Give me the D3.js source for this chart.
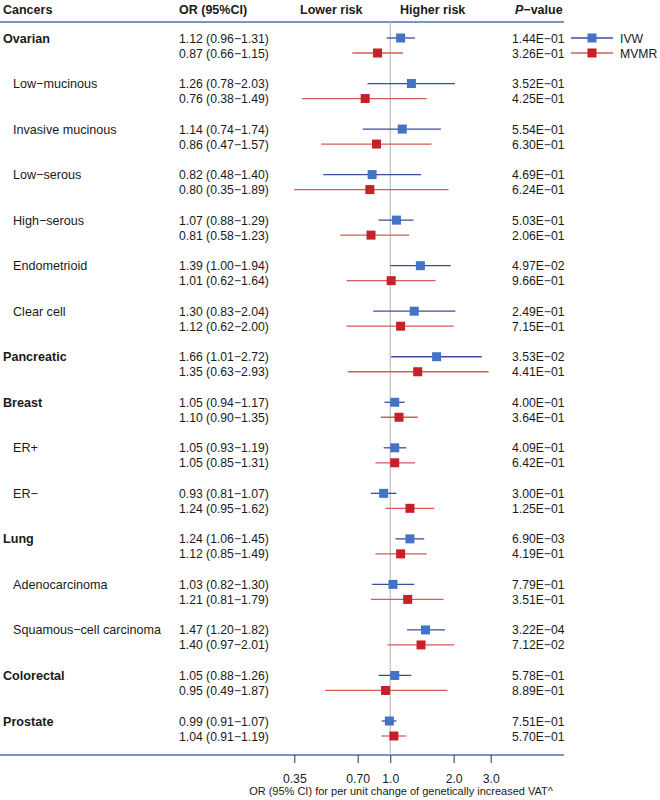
<!DOCTYPE html>
<html><head><meta charset="utf-8">
<script src="https://cdn.jsdelivr.net/npm/d3@7"></script>
<style>
html,body{margin:0;padding:0;background:#fff;}
svg text{font-family:"Liberation Sans",Arial,sans-serif;}
</style></head>
<body>
<svg id="chart" width="660" height="800"></svg>
<script>
const cancers = ["Ovarian","Low\u2212mucinous","Invasive mucinous","Low\u2212serous","High\u2212serous","Endometrioid","Clear cell","Pancreatic","Breast","ER+","ER\u2212","Lung","Adenocarcinoma","Squamous\u2212cell carcinoma","Colorectal","Prostate"];
const isMain = [true,false,false,false,false,false,false,true,true,false,false,true,false,false,true,true];
const ivwOR  = [1.12,1.26,1.14,0.82,1.07,1.39,1.30,1.66,1.05,1.05,0.93,1.24,1.03,1.47,1.05,0.99];
const ivwLo  = [0.96,0.78,0.74,0.48,0.88,1.00,0.83,1.01,0.94,0.93,0.81,1.06,0.82,1.20,0.88,0.91];
const ivwHi  = [1.31,2.03,1.74,1.40,1.29,1.94,2.04,2.72,1.17,1.19,1.07,1.45,1.30,1.82,1.26,1.07];
const ivwP   = ["1.44E\u221201","3.52E\u221201","5.54E\u221201","4.69E\u221201","5.03E\u221201","4.97E\u221202","2.49E\u221201","3.53E\u221202","4.00E\u221201","4.09E\u221201","3.00E\u221201","6.90E\u221203","7.79E\u221201","3.22E\u221204","5.78E\u221201","7.51E\u221201"];
const mvmrOR = [0.87,0.76,0.86,0.80,0.81,1.01,1.12,1.35,1.10,1.05,1.24,1.12,1.21,1.40,0.95,1.04];
const mvmrLo = [0.66,0.38,0.47,0.35,0.58,0.62,0.62,0.63,0.90,0.85,0.95,0.85,0.81,0.97,0.49,0.91];
const mvmrHi = [1.15,1.49,1.57,1.89,1.23,1.64,2.00,2.93,1.35,1.31,1.62,1.49,1.79,2.01,1.87,1.19];
const mvmrP  = ["3.26E\u221201","4.25E\u221201","6.30E\u221201","6.24E\u221201","2.06E\u221201","9.66E\u221201","7.15E\u221201","4.41E\u221201","3.64E\u221201","6.42E\u221201","1.25E\u221201","4.19E\u221201","3.51E\u221201","7.12E\u221202","8.89E\u221201","5.70E\u221201"];
const tickVals = [0.35,0.70,1.0,2.0,3.0];
const tickLabels = ["0.35","0.70","1.0","2.0","3.0"];
const seriesNames = ["IVW","MVMR"];
const headers = ["Cancers","OR (95%CI)","Lower risk","Higher risk","P\u2212value"];

const svg = d3.select("#chart");
const textCol = "#1a1a1a";
const sqCol = ["#4472C4","#C62028"];
const lnCol = ["#3A4E9E","#D75A5A"];

const x = d3.scaleLog().domain([0.35,3.0]).range([294.3,490.7]);
const y = d3.scaleLinear().domain([0,15]).range([38,721]);
const off = [0,15];

const fmt = v => v.toFixed(2);
const orText = (o,l,h) => `${fmt(o)} (${fmt(l)}\u2212${fmt(h)})`;

// header
const hx = [3,179,300,400,515];
svg.selectAll("text.hdr").data(headers).join("text").attr("class","hdr")
  .attr("x",(d,i)=>hx[i]).attr("y",14).attr("font-size",12.5).attr("font-weight","bold")
  .attr("fill",textCol)
  .each(function(d,i){
    const t=d3.select(this);
    if(i===4){ t.append("tspan").attr("font-style","italic").text("P"); t.append("tspan").text("\u2212value"); }
    else t.text(d);
  });

// top and bottom lines
svg.append("line").attr("x1",0).attr("x2",564).attr("y1",22).attr("y2",22).attr("stroke","#4A74AE").attr("stroke-width",1.5);
svg.append("line").attr("x1",0).attr("x2",564).attr("y1",755).attr("y2",755).attr("stroke","#4A74AE").attr("stroke-width",1.5);

// reference line
svg.append("line").attr("x1",x(1)).attr("x2",x(1)).attr("y1",22).attr("y2",755).attr("stroke","#BDBDBD").attr("stroke-width",1.2);

// labels
svg.selectAll("text.lab").data(cancers).join("text").attr("class","lab")
  .attr("x",(d,i)=>isMain[i]?3:13).attr("y",(d,i)=>y(i)+4.5)
  .attr("font-size",12.6).attr("font-weight",(d,i)=>isMain[i]?"bold":"normal")
  .attr("fill",textCol).text(d=>d);

const series = [
  {or:ivwOR,lo:ivwLo,hi:ivwHi,p:ivwP},
  {or:mvmrOR,lo:mvmrLo,hi:mvmrHi,p:mvmrP}
];
series.forEach((s,k)=>{
  const g = svg.append("g");
  g.selectAll("text.or").data(s.or).join("text")
    .attr("x",179).attr("y",(d,i)=>y(i)+off[k]+4.5).attr("font-size",12.2).attr("fill",textCol)
    .text((d,i)=>orText(d,s.lo[i],s.hi[i]));
  g.selectAll("text.p").data(s.p).join("text")
    .attr("x",512).attr("y",(d,i)=>y(i)+off[k]+4.5).attr("font-size",12.2).attr("fill",textCol)
    .text(d=>d);
  g.selectAll("line.ci").data(s.or).join("line")
    .attr("x1",(d,i)=>x(s.lo[i])).attr("x2",(d,i)=>x(s.hi[i]))
    .attr("y1",(d,i)=>y(i)+off[k]).attr("y2",(d,i)=>y(i)+off[k])
    .attr("stroke",lnCol[k]).attr("stroke-width",1.3);
  g.selectAll("rect.pt").data(s.or).join("rect")
    .attr("x",d=>x(d)-4.5).attr("y",(d,i)=>y(i)+off[k]-4.5).attr("width",9).attr("height",9)
    .attr("fill",sqCol[k]);
});

// legend
seriesNames.forEach((n,k)=>{
  const ly = 38+off[k];
  svg.append("line").attr("x1",571).attr("x2",613).attr("y1",ly).attr("y2",ly).attr("stroke",lnCol[k]).attr("stroke-width",1.3);
  svg.append("rect").attr("x",587.5).attr("y",ly-4.5).attr("width",9).attr("height",9).attr("fill",sqCol[k]);
  svg.append("text").attr("x",620).attr("y",ly+4.5).attr("font-size",12.2).attr("fill",textCol).text(n);
});

// axis
const axis = d3.axisBottom(x).tickValues(tickVals).tickFormat((d,i)=>tickLabels[i]).tickSize(8).tickPadding(11);
const ag = svg.append("g").attr("transform","translate(0,755)").call(axis);
ag.select(".domain").remove();
ag.selectAll(".tick line").attr("stroke","#333");
ag.selectAll(".tick text").attr("font-size",12.2).attr("fill",textCol).attr("font-family","Liberation Sans, Arial, sans-serif");

svg.append("text").attr("x",401).attr("y",795).attr("text-anchor","middle").attr("font-size",11).attr("fill",textCol)
  .text("OR (95% CI) for per unit change of genetically increased VAT^");
</script>
</body></html>
